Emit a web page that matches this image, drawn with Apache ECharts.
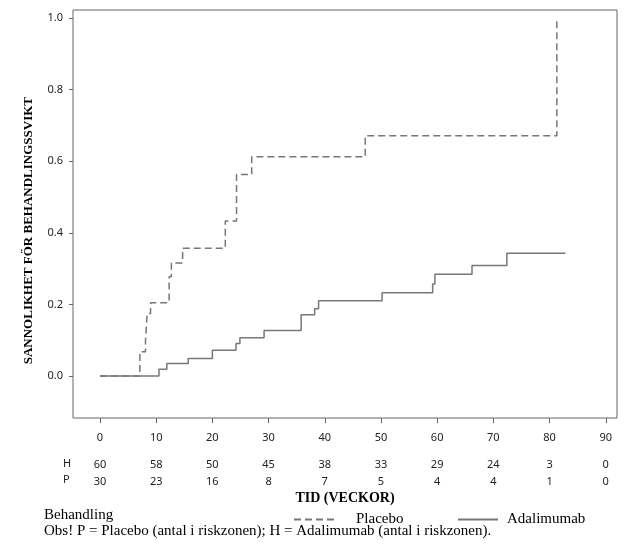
<!DOCTYPE html>
<html>
<head>
<meta charset="utf-8">
<script src="https://cdn.jsdelivr.net/npm/echarts@6/dist/echarts.min.js"></script>
<style>
  html, body { margin: 0; padding: 0; background: #fff; }
  #chart { width: 631px; height: 548px; }
</style>
</head>
<body>
<div id="chart"></div>
<script>
// tid (veckor) / kumulativ sannolikhet
var placeboTimes = [0, 7.1, 8.1, 8.4, 9.0, 12.3, 12.7, 14.7, 22.3, 24.3, 27.0, 47.2, 81.3];
var placeboValues = [0, 0.068, 0.10, 0.175, 0.205, 0.277, 0.316, 0.357, 0.433, 0.563, 0.612, 0.671, 1.0];
var adaTimes = [0, 10.5, 11.9, 15.7, 20.0, 24.2, 24.9, 29.2, 35.8, 38.2, 38.9, 50.2, 59.2, 59.6, 66.2, 72.4, 82.8];
var adaValues = [0, 0.019, 0.035, 0.049, 0.072, 0.091, 0.107, 0.127, 0.171, 0.188, 0.210, 0.233, 0.257, 0.284, 0.309, 0.343, 0.343];

// axlar och antal i riskzonen
var xTicks = [0, 10, 20, 30, 40, 50, 60, 70, 80, 90];
var yTicks = [0, 0.2, 0.4, 0.6, 0.8, 1.0];
var riskH = [60, 58, 50, 45, 38, 33, 29, 24, 3, 0];
var riskP = [30, 23, 16, 8, 7, 5, 4, 4, 1, 0];

function pairs(xs, ys) {
  return xs.map(function (x, i) { return [x, ys[i]]; });
}

var chart = echarts.init(document.getElementById('chart'));

var sans = 'Noto Sans';
var serif = 'Liberation Serif';
var lineColor = '#777';

function riskAxis(values, margin) {
  return {
    type: 'value',
    position: 'bottom',
    min: -4.8,
    max: 92,
    axisLine: { show: false, onZero: false },
    axisTick: { show: false },
    splitLine: { show: false },
    axisLabel: {
      margin: margin,
      customValues: xTicks,
      fontFamily: sans,
      fontSize: 11,
      color: '#222',
      formatter: function (v) {
        var i = xTicks.indexOf(v);
        return i < 0 ? '' : String(values[i]);
      }
    }
  };
}

var legendBase = {
  top: 507,
  itemWidth: 42,
  itemHeight: 14,
  itemStyle: { opacity: 0 },
  textStyle: { fontFamily: serif, fontSize: 15, color: '#000' }
};

var option = {
  animation: false,
  backgroundColor: '#fff',
  grid: {
    left: 73, top: 10, right: 14, bottom: 130,
    show: true, borderColor: '#666', borderWidth: 1
  },
  xAxis: [
    {
      type: 'value',
      min: -4.8,
      max: 92,
      name: 'TID (VECKOR)',
      nameLocation: 'middle',
      nameGap: 73,
      nameTextStyle: { fontFamily: serif, fontWeight: 'bold', fontSize: 14, color: '#000' },
      axisLine: { show: false, onZero: false },
      splitLine: { show: false },
      axisTick: { show: true, length: 5, customValues: xTicks, lineStyle: { color: '#666' } },
      axisLabel: { margin: 14, customValues: xTicks, fontFamily: sans, fontSize: 11, color: '#222' }
    },
    riskAxis(riskH, 41),
    riskAxis(riskP, 58)
  ],
  yAxis: {
    type: 'value',
    min: -0.117,
    max: 1.022,
    axisLine: { show: false, onZero: false },
    splitLine: { show: false },
    axisTick: { show: true, length: 4, customValues: yTicks, lineStyle: { color: '#666' } },
    axisLabel: {
      margin: 10,
      customValues: yTicks,
      fontFamily: sans,
      fontSize: 11,
      color: '#222',
      formatter: function (v) { return v.toFixed(1); }
    }
  },
  legend: [
    Object.assign({}, legendBase, {
      id: 'lp',
      data: ['Placebo'],
      left: 288,
      textStyle: Object.assign({}, legendBase.textStyle, { padding: [0, 0, 0, 15] })
    }),
    Object.assign({}, legendBase, {
      id: 'la',
      data: ['Adalimumab'],
      left: 452,
      itemWidth: 40,
      textStyle: Object.assign({}, legendBase.textStyle, { padding: [0, 0, 0, 4] })
    })
  ],
  graphic: [
    {
      type: 'text', left: 22, top: 97, rotation: Math.PI / 2,
      style: { text: 'SANNOLIKHET FÖR BEHANDLINGSSVIKT', font: 'bold 13px "Liberation Serif"', fill: '#000' }
    },
    { type: 'text', left: 63, top: 458, style: { text: 'H', font: '11px "Noto Sans"', fill: '#222' } },
    { type: 'text', left: 63, top: 474, style: { text: 'P', font: '11px "Noto Sans"', fill: '#222' } },
    { type: 'text', left: 44, top: 508, style: { text: 'Behandling', font: '15px "Liberation Serif"', fill: '#000' } },
    {
      type: 'text', left: 44, top: 524,
      style: { text: 'Obs! P = Placebo (antal i riskzonen); H = Adalimumab (antal i riskzonen).', font: '15px "Liberation Serif"', fill: '#000' }
    }
  ],
  series: [
    {
      name: 'Placebo',
      type: 'line',
      step: 'end',
      symbol: 'none',
      data: pairs(placeboTimes, placeboValues),
      lineStyle: { color: lineColor, width: 1.5, type: [7, 4] },
      itemStyle: { color: lineColor }
    },
    {
      name: 'Adalimumab',
      type: 'line',
      step: 'end',
      symbol: 'none',
      data: pairs(adaTimes, adaValues),
      lineStyle: { color: lineColor, width: 1.5 },
      itemStyle: { color: lineColor }
    }
  ]
};

chart.setOption(option);
</script>
</body>
</html>
